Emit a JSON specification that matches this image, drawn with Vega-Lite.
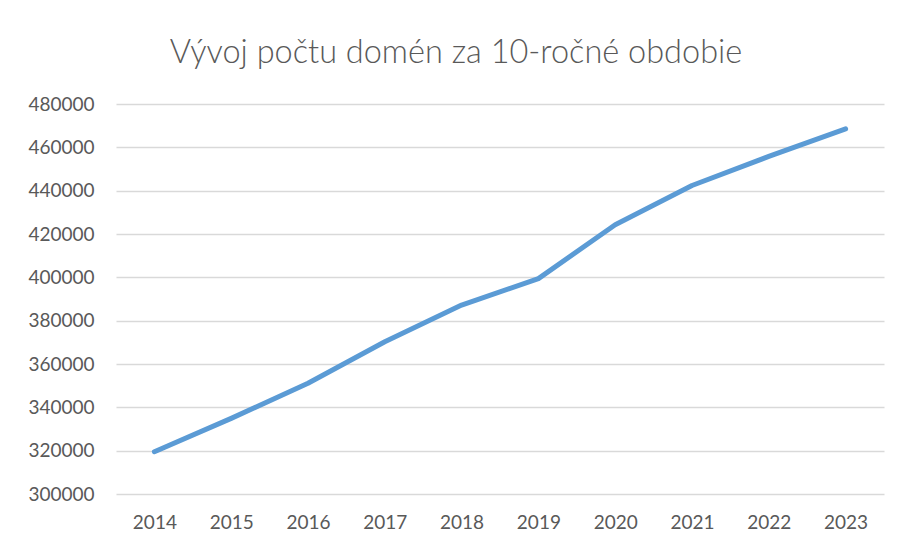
{
  "$schema": "https://vega.github.io/schema/vega-lite/v6.json",
  "autosize": {"type": "none"},
  "width": 768,
  "height": 390,
  "padding": {"left": 116, "top": 104, "right": 14, "bottom": 54},
  "background": "white",
  "title": {
    "text": "Vývoj počtu domén za 10-ročné obdobie",
    "font": "Lato",
    "fontSize": 32.5,
    "fontWeight": 300,
    "color": "#595959",
    "anchor": "middle",
    "frame": "bounds",
    "baseline": "alphabetic",
    "offset": 0
  },
  "data": {
    "values": [
      {"rok": "2014", "domeny": 319500},
      {"rok": "2015", "domeny": 334900},
      {"rok": "2016", "domeny": 351100},
      {"rok": "2017", "domeny": 370300},
      {"rok": "2018", "domeny": 387200},
      {"rok": "2019", "domeny": 399400},
      {"rok": "2020", "domeny": 424300},
      {"rok": "2021", "domeny": 442400},
      {"rok": "2022", "domeny": 455800},
      {"rok": "2023", "domeny": 468500}
    ]
  },
  "mark": {"type": "line", "color": "#5B9BD5", "strokeWidth": 5, "strokeCap": "round", "strokeJoin": "round"},
  "encoding": {
    "x": {
      "field": "rok",
      "type": "ordinal",
      "scale": {"type": "point", "padding": 0.5},
      "axis": {
        "title": null,
        "labelAngle": 0,
        "domain": false,
        "ticks": false,
        "labelPadding": 19,
        "labelFont": "Lato",
        "labelFontSize": 19,
        "labelColor": "#595959"
      }
    },
    "y": {
      "field": "domeny",
      "type": "quantitative",
      "scale": {"domain": [300000, 480000], "nice": false, "zero": false},
      "axis": {
        "title": null,
        "values": [300000, 320000, 340000, 360000, 380000, 400000, 420000, 440000, 460000, 480000],
        "format": "d",
        "domain": false,
        "ticks": false,
        "labelPadding": 22,
        "labelFont": "Lato",
        "labelFontSize": 19,
        "labelColor": "#595959",
        "gridColor": "#D9D9D9",
        "gridWidth": 1.3
      }
    }
  },
  "config": {"view": {"stroke": null}}
}
